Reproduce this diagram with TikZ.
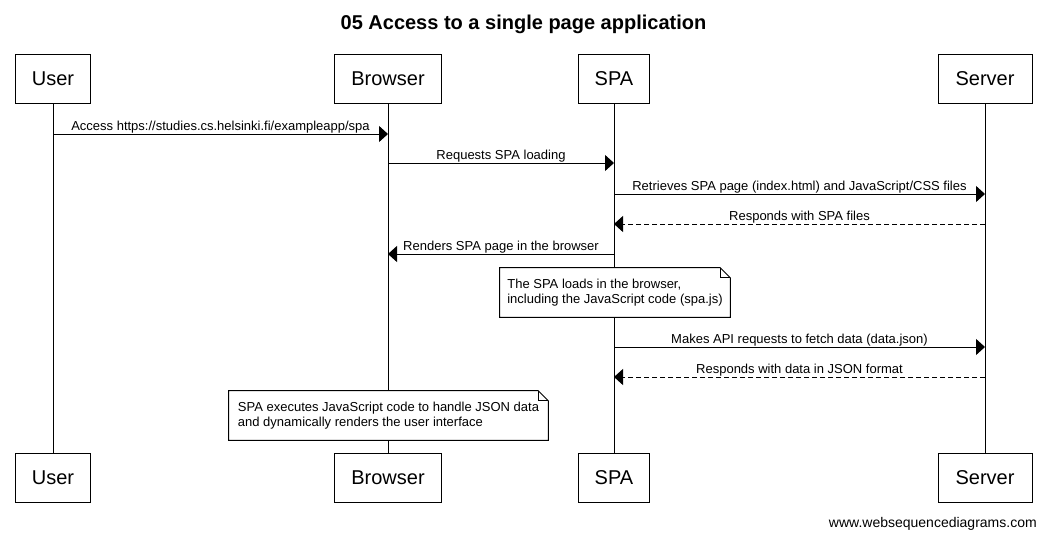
\documentclass[tikz,border=0pt]{standalone}
\usepackage{fontspec}
\setmainfont{Liberation Sans}
\usetikzlibrary{arrows.meta}
\begin{document}
\begin{tikzpicture}[x=0.75pt,y=-0.75pt,
  actor/.style={draw,line width=0.75pt,fill=white,minimum height=36.75pt,inner sep=0pt,font=\fontsize{15}{18}\selectfont},
  life/.style={line width=0.75pt},
  msg/.style={line width=0.75pt,-{Triangle[length=6.75pt,width=12pt]}},
  ret/.style={msg,dash pattern=on 3.75pt off 2.25pt},
  lbl/.style={font=\fontsize{9.75}{11.7}\selectfont,anchor=base,inner sep=0pt,yshift=3pt},
  notebox/.style={fill=white,inner xsep=0pt,inner ysep=0pt,minimum height=36.75pt,align=left,font=\fontsize{9.75}{11.25}\selectfont},
  noteline/.style={line width=0.75pt}
]
\path[use as bounding box,fill=white] (0,0) rectangle (1046,536);

\node[font=\bfseries\fontsize{15}{18}\selectfont,anchor=base] (title) at (523.5,29) {05 Access to a single page application};

% participants top
\node[actor,minimum width=56.25pt] (userT) at (53,78.5) {User};
\node[actor,minimum width=80.25pt] (browserT) at (388,78.5) {Browser};
\node[actor,minimum width=53.25pt] (spaT) at (614,78.5) {SPA};
\node[actor,minimum width=70.5pt] (serverT) at (985,78.5) {Server};
% participants bottom
\node[actor,minimum width=56.25pt] (userB) at (53,477.5) {User};
\node[actor,minimum width=80.25pt] (browserB) at (388,477.5) {Browser};
\node[actor,minimum width=53.25pt] (spaB) at (614,477.5) {SPA};
\node[actor,minimum width=70.5pt] (serverB) at (985,477.5) {Server};

% lifelines
\draw[life] (userT) -- (userB);
\draw[life] (browserT) -- (browserB);
\draw[life] (spaT) -- (spaB);
\draw[life] (serverT) -- (serverB);

% message anchor points
\coordinate (u1) at (53,134);   \coordinate (b1) at (388,134);
\coordinate (b2) at (388,163);  \coordinate (s2) at (614,163);
\coordinate (s3) at (614,194);  \coordinate (v3) at (985,194);
\coordinate (v4) at (985,224);  \coordinate (s4) at (614,224);
\coordinate (s5) at (614,254);  \coordinate (b5) at (388,254);
\coordinate (s7) at (614,347);  \coordinate (v7) at (985,347);
\coordinate (v8) at (985,377);  \coordinate (s8) at (614,377);

\draw[msg] (u1) -- node[lbl,midway] {Access https://studies.cs.helsinki.fi/exampleapp/spa} (b1);
\draw[msg] (b2) -- node[lbl,midway] {Requests SPA loading} (s2);
\draw[msg] (s3) -- node[lbl,midway] {Retrieves SPA page (index.html) and JavaScript/CSS files} (v3);
\draw[ret] (v4) -- node[lbl,midway] {Responds with SPA files} (s4);
\draw[msg] (s5) -- node[lbl,midway] {Renders SPA page in the browser} (b5);
\draw[msg] (s7) -- node[lbl,midway] {Makes API requests to fetch data (data.json)} (v7);
\draw[ret] (v8) -- node[lbl,midway] {Responds with data in JSON format} (s8);

% notes
\node[notebox,minimum width=172.5pt] (n1) at (615,292.5) {The SPA loads in the browser,\\including the JavaScript code (spa.js)};
\draw[noteline] (n1.south west) -- (n1.north west) -- ([xshift=-7.5pt]n1.north east) -- ([yshift=-7.5pt]n1.north east) -- (n1.south east) -- cycle;
\draw[noteline] ([xshift=-7.5pt]n1.north east) |- ([yshift=-7.5pt]n1.north east);

\node[notebox,minimum width=239.25pt] (n2) at (388.5,415.5) {SPA executes JavaScript code to handle JSON data\\and dynamically renders the user interface};
\draw[noteline] (n2.south west) -- (n2.north west) -- ([xshift=-7.5pt]n2.north east) -- ([yshift=-7.5pt]n2.north east) -- (n2.south east) -- cycle;
\draw[noteline] ([xshift=-7.5pt]n2.north east) |- ([yshift=-7.5pt]n2.north east);

\node[font=\fontsize{10.5}{12.6}\selectfont,anchor=base east,inner sep=0pt] (wm) at (1037,527) {www.websequencediagrams.com};
\end{tikzpicture}
\end{document}
